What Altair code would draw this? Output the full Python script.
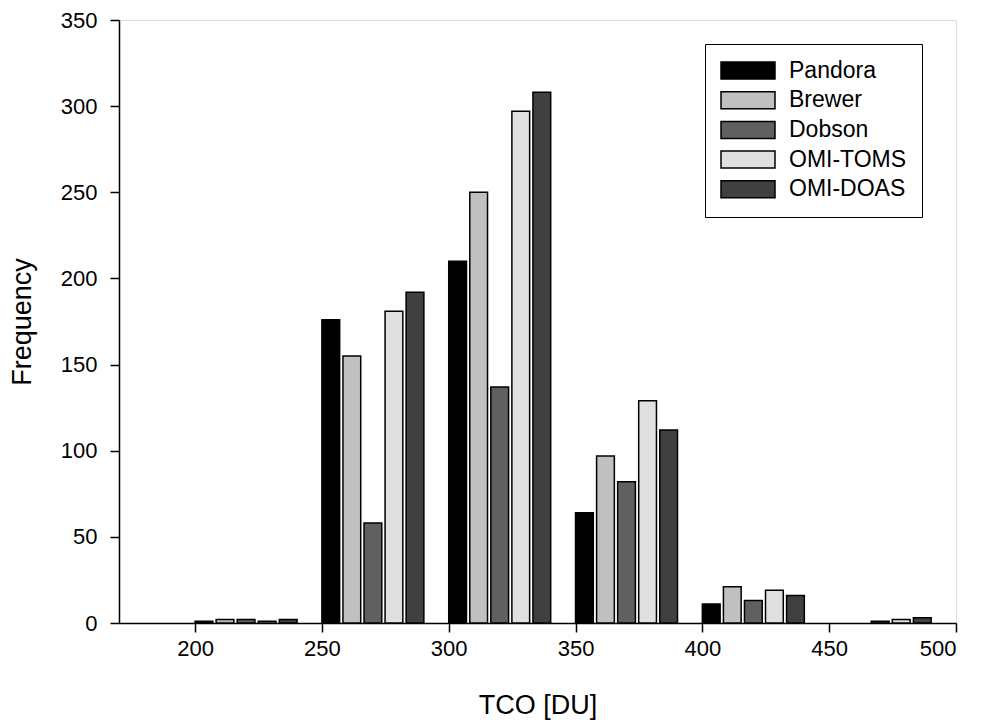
import altair as alt
import pandas as pd

bins = [200, 250, 300, 350, 400, 450]
series = ["Pandora", "Brewer", "Dobson", "OMI-TOMS", "OMI-DOAS"]
pandora = [1, 176, 210, 64, 11, 0]
brewer = [2, 155, 250, 97, 21, 0]
dobson = [2, 58, 137, 82, 13, 1]
omi_toms = [1, 181, 297, 129, 19, 2]
omi_doas = [2, 192, 308, 112, 16, 3]
colors = ["#000000", "#c0c0c0", "#606060", "#e0e0e0", "#404040"]

values = [pandora, brewer, dobson, omi_toms, omi_doas]
rows = []
for si, (name, vals) in enumerate(zip(series, values)):
    for b, v in zip(bins, vals):
        if v > 0:
            rows.append({"bin": b, "idx": si, "series": name, "freq": v})
df = pd.DataFrame(rows)

STEP = 8.3
WIDTH = 7.0

FONT = "Liberation Sans"

chart = alt.Chart(df).transform_calculate(
    x0=f"datum.bin + datum.idx * {STEP}",
    x1=f"datum.bin + datum.idx * {STEP} + {WIDTH}",
).mark_bar(stroke="black", strokeWidth=1.5, opacity=1).encode(
    x=alt.X("x0:Q", scale=alt.Scale(domain=[170, 500], nice=False, zero=False),
            axis=alt.Axis(title="TCO [DU]", values=[200, 250, 300, 350, 400, 450, 500],
                          grid=False, tickSize=9, tickWidth=1.5, domainWidth=1.5,
                          domainColor="black", tickColor="black",
                          labelFontSize=22, labelPadding=6, labelColor="black",
                          labelFont=FONT, titleFont=FONT, titleFontSize=27,
                          titleFontWeight="normal", titlePadding=33, titleColor="black")),
    x2="x1:Q",
    y=alt.Y("freq:Q", scale=alt.Scale(domain=[0, 350], nice=False),
            axis=alt.Axis(title="Frequency", values=[0, 50, 100, 150, 200, 250, 300, 350],
                          grid=False, tickSize=9, tickWidth=1.5, domainWidth=1.5,
                          domainColor="black", tickColor="black",
                          labelFontSize=22, labelPadding=13, labelColor="black",
                          labelFont=FONT, titleFont=FONT, titleFontSize=27,
                          titleFontWeight="normal", titlePadding=24, titleColor="black")),
    y2=alt.datum(0),
    fill=alt.Fill("series:N", scale=alt.Scale(domain=series, range=colors),
                  sort=series,
                  legend=alt.Legend(title=None, orient="none", legendX=586, legendY=24,
                                    symbolType="M-1,-0.315L1,-0.315L1,0.315L-1,0.315Z",
                                    symbolSize=2916, symbolStrokeColor="black",
                                    symbolStrokeWidth=1.5, symbolOpacity=1,
                                    labelFont=FONT, labelFontSize=23, labelColor="black",
                                    labelOffset=13, clipHeight=23, rowPadding=5.7,
                                    padding=15, strokeColor="black",
                                    fillColor="white")),
).properties(
    width=837, height=603,
    autosize=alt.AutoSizeParams(type="none"),
    padding={"left": 111, "top": 12, "right": 17, "bottom": 97},
).configure_view(
    stroke="black", strokeWidth=1.5
).configure(background="white")

chart.save("out.html", embed_options={"renderer": "svg", "actions": False})
